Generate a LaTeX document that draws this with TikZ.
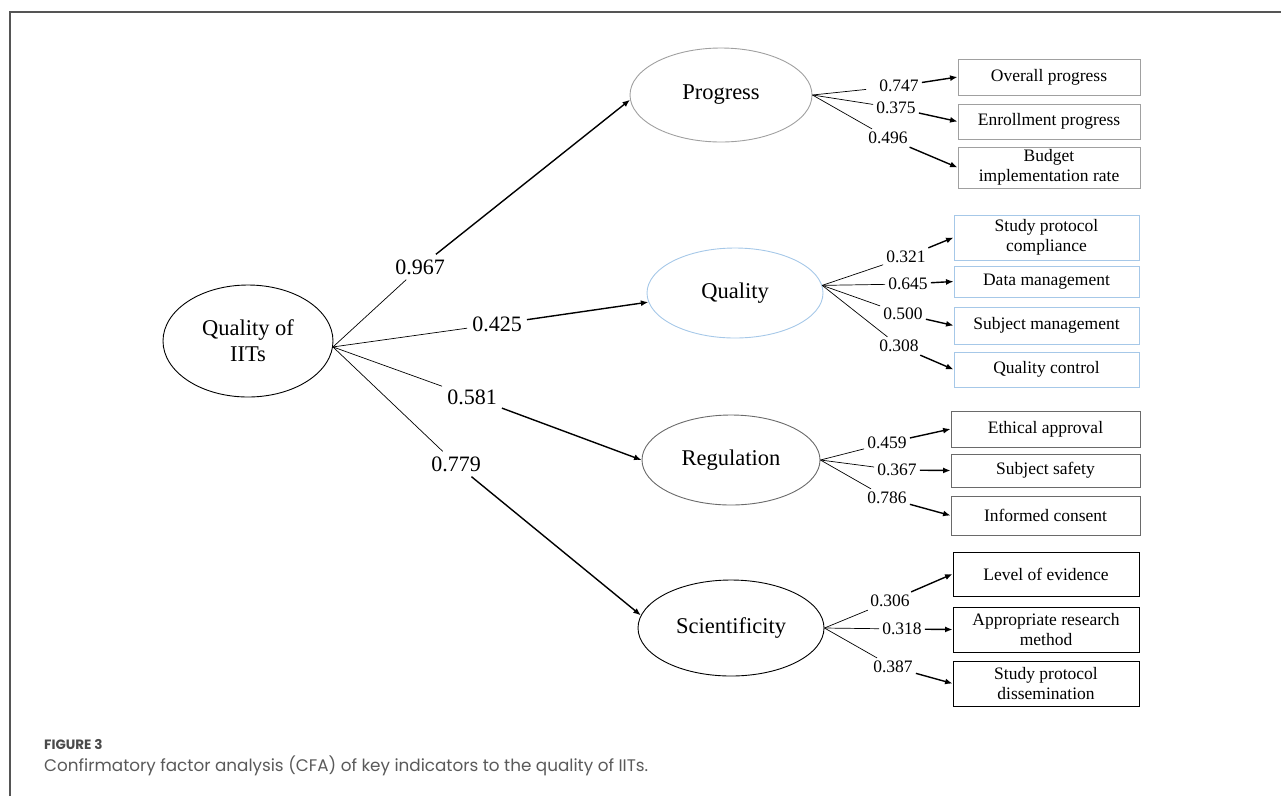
\documentclass[tikz,border=0pt]{standalone}
\usepackage{fontspec}
\setmainfont{Liberation Serif}
\newfontfamily\capfont{Poppins}
\usetikzlibrary{shapes.geometric,arrows.meta}
\definecolor{pgray}{HTML}{A0A0A0}
\definecolor{qblue}{HTML}{A6C8E8}
\definecolor{rgray}{HTML}{6A6A6A}
\definecolor{framegray}{HTML}{555555}
\definecolor{capgray}{HTML}{5A5A5A}
\definecolor{figgray}{HTML}{4A4A4A}
\begin{document}
\begin{tikzpicture}[x=1pt,y=-1pt,
  lat/.style={ellipse, draw, line width=0.9pt, inner sep=0pt, align=center,
    font=\fontsize{22.5}{26}\selectfont},
  box/.style={rectangle, draw, line width=0.9pt, inner sep=0pt, align=center,
    font=\fontsize{17.5}{20}\selectfont},
  lab/.style={inner sep=3pt, font=\fontsize{17.5}{20}\selectfont},
  biglab/.style={inner sep=5pt, font=\fontsize{22}{26}\selectfont},
  thinln/.style={line width=0.7pt},
  arr/.style={line width=1.4pt, -{Latex[length=7.5pt,width=6pt]}},
  frameln/.style={line width=1.3pt, draw=framegray}]
\useasboundingbox (0,0) rectangle (1281,796);

% frame
\coordinate (fbl) at (10,796);
\coordinate (ftl) at (10,12);
\coordinate (ftr) at (1281,12);
\draw[frameln] (fbl) -- (ftl) -- (ftr);

% latent variables
\node[lat, minimum width=170pt, minimum height=112pt] (main) at (248,341) {Quality of\\IITs};
\node[lat, draw=pgray, minimum width=182pt, minimum height=94pt] (prog) at (721,95) {Progress};
\node[lat, draw=qblue, minimum width=176pt, minimum height=90pt] (qual) at (735,293) {Quality};
\node[lat, draw=rgray, minimum width=178pt, minimum height=90pt] (reg) at (731,460) {Regulation};
\node[lat, minimum width=186pt, minimum height=96pt] (sci) at (731,628) {Scientificity};

% hubs
\coordinate (hm) at (main.-4);
\coordinate (hq) at (qual.5);

% main loadings
\node[biglab] (l967) at (420,267) {0.967};
\node[biglab] (l425) at (497,324) {0.425};
\node[biglab] (l581) at (472,397) {0.581};
\node[biglab] (l779) at (456,464) {0.779};
\draw[thinln] (hm) -- (l967);
\draw[thinln] (hm) -- (l425);
\draw[thinln] (hm) -- (l581);
\draw[thinln] (hm) -- (l779);
\draw[arr] (l967) -- (prog.183);
\draw[arr] (l425) -- (qual.186);
\draw[arr] (l581) -- (reg.west);
\draw[arr] (l779) -- (sci.172);

% Progress indicators
\node[box, draw=pgray, minimum width=182pt, minimum height=36pt] (p1) at (1049,77) {Overall progress};
\node[box, draw=pgray, minimum width=182pt, minimum height=35pt] (p2) at (1049,121.5) {Enrollment progress};
\node[box, draw=pgray, minimum width=182pt, minimum height=41pt] (p3) at (1049,167.5) {Budget\\implementation rate};
\node[lab] (l747) at (899,86) {0.747};
\node[lab] (l375) at (896,108) {0.375};
\node[lab] (l496) at (888,138) {0.496};
\draw[thinln, shorten >=10pt] (prog.east) -- (l747);
\draw[thinln] (prog.east) -- (l375);
\draw[thinln] (prog.east) -- (l496);
\draw[arr] (l747) -- (p1.west);
\draw[arr] (l375) -- (p2.west);
\draw[arr] (l496) -- (p3.west);

% Quality indicators
\node[box, draw=qblue, minimum width=185pt, minimum height=45pt] (q1) at (1046.5,237.5) {Study protocol\\compliance};
\node[box, draw=qblue, minimum width=185pt, minimum height=31pt] (q2) at (1046.5,281.5) {Data management};
\node[box, draw=qblue, minimum width=185pt, minimum height=37pt] (q3) at (1046.5,325.5) {Subject management};
\node[box, draw=qblue, minimum width=185pt, minimum height=35pt] (q4) at (1046.5,369.5) {Quality control};
\node[lab] (l321) at (906,257) {0.321};
\node[lab] (l645) at (908,284) {0.645};
\node[lab] (l500) at (903,314) {0.500};
\node[lab] (l308) at (899,346) {0.308};
\draw[thinln] (hq) -- (l321);
\draw[thinln] (hq) -- (l645);
\draw[thinln] (hq) -- (l500);
\draw[thinln] (hq) -- (l308);
\draw[arr] (l321) -- (q1.west);
\draw[arr] (l645) -- (q2.west);
\draw[arr] (l500) -- (q3.west);
\draw[arr] (l308) -- (q4.west);

% Regulation indicators
\node[box, draw=rgray, minimum width=189pt, minimum height=36pt] (r1) at (1045.5,429) {Ethical approval};
\node[box, draw=rgray, minimum width=189pt, minimum height=33pt] (r2) at (1045.5,470.5) {Subject safety};
\node[box, draw=rgray, minimum width=189pt, minimum height=39pt] (r3) at (1045.5,515.5) {Informed consent};
\node[lab] (l459) at (887,443) {0.459};
\node[lab] (l367) at (897,470) {0.367};
\node[lab] (l786) at (887,498) {0.786};
\draw[thinln] (reg.east) -- (l459);
\draw[thinln] (reg.east) -- (l367);
\draw[thinln] (reg.east) -- (l786);
\draw[arr] (l459) -- (r1.west);
\draw[arr] (l367) -- (r2.west);
\draw[arr] (l786) -- (r3.west);

% Scientificity indicators
\node[box, minimum width=186pt, minimum height=44pt] (s1) at (1046,574) {Level of evidence};
\node[box, minimum width=186pt, minimum height=45pt] (s2) at (1046,629.5) {Appropriate research\\method};
\node[box, minimum width=186pt, minimum height=45pt] (s3) at (1046,683.5) {Study protocol\\dissemination};
\node[lab] (l306) at (890,601) {0.306};
\node[lab] (l318) at (902,629) {0.318};
\node[lab] (l387) at (893,667) {0.387};
\draw[thinln] (sci.east) -- (l306);
\draw[thinln] (sci.east) -- (l318);
\draw[thinln] (sci.east) -- (l387);
\draw[arr] (l306) -- (s1.west);
\draw[arr] (l318) -- (s2.west);
\draw[arr] (l387) -- (s3.west);

% caption
\node[anchor=base west, inner sep=0pt, text=figgray, font=\capfont\bfseries\fontsize{13.5}{16}\selectfont] (fig) at (44,749) {FIGURE 3};
\node[anchor=base west, inner sep=0pt, text=capgray, font=\capfont\fontsize{16.8}{20}\selectfont] (cap) at (44,771) {Confirmatory factor analysis (CFA) of key indicators to the quality of IITs.};
\end{tikzpicture}
\end{document}
